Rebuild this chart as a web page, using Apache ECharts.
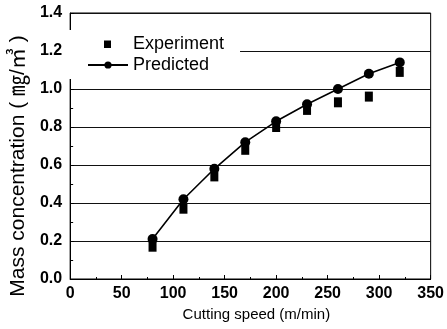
<!DOCTYPE html>
<html>
<head>
<meta charset="utf-8">
<script src="https://cdn.jsdelivr.net/npm/echarts@6/dist/echarts.min.js"></script>
<style>html,body{margin:0;padding:0;background:#fff}#c{width:447px;height:329px}</style>
</head>
<body>
<div id="c"></div>
<script>
var speeds = [80, 110, 140, 170, 200, 230, 260, 290, 320];
var experiment = [0.17, 0.37, 0.54, 0.68, 0.80, 0.89, 0.93, 0.96, 1.09];
var predicted = [0.21, 0.42, 0.58, 0.72, 0.83, 0.92, 1.00, 1.08, 1.14];
var xTitle = 'Cutting speed (m/min)';
var yTitle = 'Mass concentration ( \u338E/\u33A5 )';

function pairs(xs, ys) { return xs.map(function (x, i) { return [x, ys[i]]; }); }

var FONT = '"Liberation Sans", Arial, Helvetica, "Noto Sans CJK KR", sans-serif';
var chart = echarts.init(document.getElementById('c'), null, {renderer: 'canvas'});
chart.setOption({
  animation: false,
  backgroundColor: '#fff',
  grid: {left: 63, right: 16, top: 13, bottom: 50, show: true, borderColor: '#000', borderWidth: 1, backgroundColor: 'transparent'},
  legend: {
    orient: 'vertical', left: 63, top: 30,
    padding: [5, 16, 5, 24],
    backgroundColor: '#fff',
    itemWidth: 40, itemHeight: 9, itemGap: 3,
    textStyle: {fontFamily: FONT, fontSize: 18, color: '#000'},
    data: [
      {name: 'Experiment', icon: 'path://M0,0M40,9M16,1h7v7.5h-7z', itemStyle: {color: '#000', opacity: 1}},
      {name: 'Predicted'}
    ]
  },
  xAxis: {
    type: 'value', min: 0, max: 350, interval: 50,
    name: xTitle, nameLocation: 'middle', nameGap: 24,
    nameTextStyle: {fontFamily: FONT, fontSize: 15, color: '#000', padding: [0, 0, 0, 12]},
    axisLine: {show: true, lineStyle: {color: '#000', width: 1}},
    axisTick: {show: true, inside: true, length: 4, lineStyle: {color: '#000'}},
    minorTick: {show: true, splitNumber: 2, length: 2, lineStyle: {color: '#000'}},
    axisLabel: {fontFamily: FONT, fontSize: 16, fontWeight: 'bold', color: '#000', margin: 7},
    splitLine: {show: false}
  },
  yAxis: {
    type: 'value', min: 0, max: 1.4, interval: 0.2,
    name: yTitle, nameLocation: 'middle', nameGap: 35,
    nameTextStyle: {fontFamily: FONT, fontSize: 21, color: '#000', padding: [0, 40, 0, 0]},
    axisLine: {show: true, lineStyle: {color: '#000', width: 1}},
    axisTick: {show: true, inside: true, length: 4, lineStyle: {color: '#000'}},
    minorTick: {show: true, splitNumber: 2, length: 3, lineStyle: {color: '#000'}},
    axisLabel: {fontFamily: FONT, fontSize: 16, fontWeight: 'bold', color: '#000', margin: 8,
      formatter: function (v) { return v.toFixed(1); }},
    splitLine: {show: true, lineStyle: {color: '#111', width: 1}}
  },
  series: [
    {
      name: 'Experiment', type: 'scatter', symbol: 'rect', symbolSize: [8, 10],
      itemStyle: {color: '#000', opacity: 1}, data: pairs(speeds, experiment), z: 3
    },
    {
      name: 'Predicted', type: 'line', symbol: 'circle', symbolSize: 10, showSymbol: true,
      lineStyle: {color: '#000', width: 1.6}, itemStyle: {color: '#000', opacity: 1},
      data: pairs(speeds, predicted), z: 4
    }
  ]
});
</script>
</body>
</html>
